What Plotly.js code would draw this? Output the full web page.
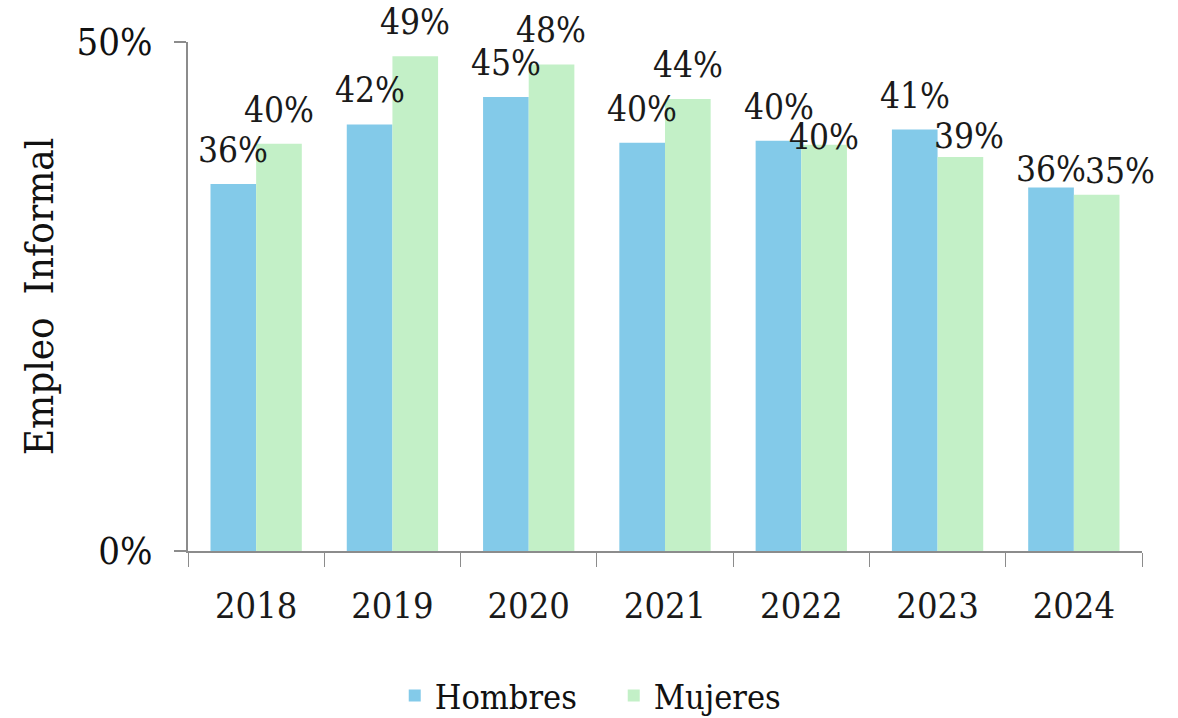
<!DOCTYPE html>
<html>
<head>
<meta charset="utf-8">
<script src="https://cdn.plot.ly/plotly-3.0.1.min.js"></script>
<style>html,body{margin:0;padding:0;background:#fff;}#chart{width:1178px;height:718px;}</style>
</head>
<body>
<div id="chart"></div>
<script>
const years = ['2018','2019','2020','2021','2022','2023','2024'];
const hombres = [36.05, 41.9, 44.6, 40.1, 40.3, 41.4, 35.7];
const mujeres = [40.0, 48.6, 47.8, 44.4, 39.9, 38.7, 35.0];
const seriesNames = ['Hombres', 'Mujeres'];
const yTickVals = [0, 50];
const yTickText = ['0%', '50%'];

const FONT = 'DejaVu Serif Condensed, DejaVu Serif, serif';
const colors = ['#83CAE9', '#C3F0C7'];

function barTrace(name, vals, color) {
  return {
    type: 'bar', name: name, x: years, y: vals,
    marker: {color: color, line: {width: 0}},
    hoverinfo: 'skip'
  };
}

const data = [
  barTrace(seriesNames[0], hombres, colors[0]),
  barTrace(seriesNames[1], mujeres, colors[1])
];

// label placement nudges (pixels) as seen in the reference: key = series-category index
const labelNudge = {
  '1-4': {dx: 0, dy: -26},
  '1-5': {dx: 9, dy: -13},
  '0-6': {dx: 0, dy: -15},
  '1-6': {dx: 23, dy: -10}
};

// value labels as annotations anchored to the data coordinates (category index)
const annotations = [];
[hombres, mujeres].forEach((vals, si) => {
  vals.forEach((v, i) => {
    const n = labelNudge[si + '-' + i] || {dx: 0, dy: 0};
    annotations.push({
      x: i, y: v, xref: 'x', yref: 'y',
      text: Math.round(v) + '%', showarrow: false,
      xanchor: 'center', yanchor: 'bottom',
      xshift: (si === 0 ? -22.7 : 22.7) + n.dx, yshift: 12 + n.dy,
      font: {family: FONT, size: 35, color: '#1a1a1a'}
    });
  });
});

const layout = {
  width: 1178, height: 718,
  margin: {l: 188, r: 36, t: 42, b: 167},
  paper_bgcolor: '#fff', plot_bgcolor: '#fff',
  font: {family: FONT, color: '#1a1a1a'},
  barmode: 'group', bargap: 0.33, bargroupgap: 0,
  xaxis: {
    type: 'category', categoryorder: 'array', categoryarray: years,
    range: [-0.5, years.length - 0.5],
    showgrid: false, showline: true, linecolor: '#8c8c8c', linewidth: 2,
    ticks: 'outside', tickson: 'boundaries', ticklen: 14, tickcolor: '#8c8c8c', tickwidth: 1,
    tickfont: {family: FONT, size: 36, color: '#1a1a1a'},
    tickangle: 0,
    ticklabelstandoff: 22
  },
  yaxis: {
    range: [0, 50], tickvals: yTickVals, ticktext: yTickText,
    showline: true, linecolor: '#8c8c8c', linewidth: 2,
    ticks: 'outside', ticklen: 12, tickcolor: '#8c8c8c', tickwidth: 2,
    showgrid: true, gridcolor: '#d9d9d9', gridwidth: 2, griddash: '12px,8px',
    zeroline: false,
    tickfont: {family: FONT, size: 38, color: '#111'},
    ticklabelstandoff: 14,
    title: {text: 'Empleo  Informal', font: {family: FONT, size: 40, color: '#111'}, standoff: 10}
  },
  annotations: annotations,
  legend: {
    orientation: 'h', xref: 'container', yref: 'container',
    x: 0.521, xanchor: 'center', y: 0.071, yanchor: 'top',
    font: {family: FONT, size: 34, color: '#111'},
    itemwidth: 30, traceorder: 'normal',
    entrywidth: 174, entrywidthmode: 'pixels'
  },
  showlegend: true
};

Plotly.newPlot('chart', data, layout, {staticPlot: true, displayModeBar: false});
</script>
</body>
</html>
